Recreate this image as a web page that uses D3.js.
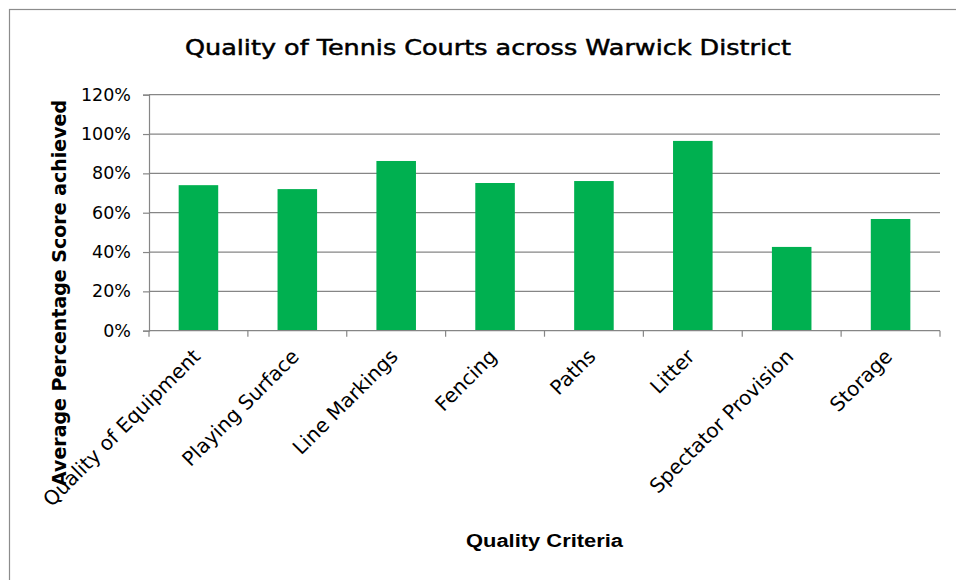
<!DOCTYPE html>
<html>
<head>
<meta charset="utf-8">
<script src="https://cdn.jsdelivr.net/npm/d3@7"></script>
<style>
  body { margin: 0; background: #fff; }
  svg { display: block; }
</style>
</head>
<body>
<svg width="956" height="580"></svg>
<script>
const categories = ["Quality of Equipment", "Playing Surface", "Line Markings", "Fencing", "Paths", "Litter", "Spectator Provision", "Storage"];
const scores = [0.74, 0.72, 0.863, 0.751, 0.761, 0.965, 0.426, 0.568];
const yTicks = [0, 0.2, 0.4, 0.6, 0.8, 1.0, 1.2];

const width = 956;
const height = 580;
const plot = {left: 149, right: 940, top: 94.7, bottom: 330.7};

let svg = d3.select("svg")
    .attr("viewBox", [0, 0, width, height]);

// chart area border (runs off the right and bottom edge)
svg.append("rect")
    .attr("x", 9.5)
    .attr("y", 9.5)
    .attr("width", 960)
    .attr("height", 600)
    .attr("fill", "#fff")
    .attr("stroke", "#8c8c8c")
    .attr("stroke-width", 1.2);

let x = d3.scaleBand()
    .domain(categories)
    .range([plot.left, plot.right]);
let y = d3.scaleLinear()
    .domain([0, 1.2])
    .range([plot.bottom, plot.top]);

// gridlines
svg.append("g")
    .selectAll("line")
    .data(yTicks.filter(d => d > 0))
    .join("line")
    .attr("x1", plot.left)
    .attr("x2", plot.right)
    .attr("y1", d => y(d))
    .attr("y2", d => y(d))
    .attr("stroke", "#868686")
    .attr("stroke-width", 1.2);

// bars
svg.append("g")
    .selectAll("rect")
    .data(categories)
    .join("rect")
    .attr("x", d => x(d) + x.bandwidth() * 0.3)
    .attr("width", x.bandwidth() * 0.4)
    .attr("y", (d, i) => y(scores[i]))
    .attr("height", (d, i) => y(0) - y(scores[i]))
    .attr("fill", "#00b050");

// y axis
let yAxis = d3.axisLeft(y)
    .tickValues(yTicks)
    .tickFormat(d3.format(".0%"))
    .tickSize(6)
    .tickPadding(12);
let yg = svg.append("g")
    .attr("transform", "translate(" + plot.left + ",0)")
    .call(yAxis);
yg.select(".domain").attr("stroke", "#868686").attr("stroke-width", 1.2);
yg.selectAll(".tick line").attr("stroke", "#868686").attr("stroke-width", 1.2);
yg.selectAll(".tick text")
    .attr("fill", "#000")
    .style("font-family", "DejaVu Sans")
    .style("font-size", "17.5px");

// x axis line and boundary ticks
let boundaries = categories.map(d => x(d)).concat([x(categories[categories.length - 1]) + x.bandwidth()]);
svg.append("line")
    .attr("x1", plot.left)
    .attr("x2", plot.right)
    .attr("y1", plot.bottom)
    .attr("y2", plot.bottom)
    .attr("stroke", "#868686")
    .attr("stroke-width", 1.2);
svg.append("g")
    .selectAll("line")
    .data(boundaries)
    .join("line")
    .attr("x1", d => d)
    .attr("x2", d => d)
    .attr("y1", plot.bottom)
    .attr("y2", plot.bottom + 6)
    .attr("stroke", "#868686")
    .attr("stroke-width", 1.2);

// rotated category labels
svg.append("g")
    .selectAll("text")
    .data(categories)
    .join("text")
    .attr("transform", d => "translate(" + (x(d) + x.bandwidth() / 2 + 3) + "," + (plot.bottom + 27) + ") rotate(-45)")
    .attr("text-anchor", "end")
    .style("font-family", "DejaVu Sans")
    .style("font-size", "20px")
    .text(d => d);

// titles
svg.append("text")
    .attr("x", 488)
    .attr("y", 55)
    .attr("text-anchor", "middle")
    .attr("textLength", 606)
    .attr("lengthAdjust", "spacingAndGlyphs")
    .attr("stroke", "#000")
    .attr("stroke-width", 0.5)
    .style("font-family", "DejaVu Sans")
    .style("font-size", "21px")
    .text("Quality of Tennis Courts across Warwick District");

svg.append("text")
    .attr("transform", "translate(66,293) rotate(-90)")
    .attr("text-anchor", "middle")
    .attr("textLength", 386)
    .attr("lengthAdjust", "spacingAndGlyphs")
    .style("font-family", "DejaVu Sans")
    .style("font-weight", "bold")
    .style("font-size", "20px")
    .text("Average Percentage Score achieved");

svg.append("text")
    .attr("x", (plot.left + plot.right) / 2)
    .attr("y", 547)
    .attr("text-anchor", "middle")
    .attr("textLength", 157)
    .attr("lengthAdjust", "spacingAndGlyphs")
    .style("font-family", "Liberation Sans")
    .style("font-weight", "bold")
    .style("font-size", "18px")
    .text("Quality Criteria");
</script>
</body>
</html>
